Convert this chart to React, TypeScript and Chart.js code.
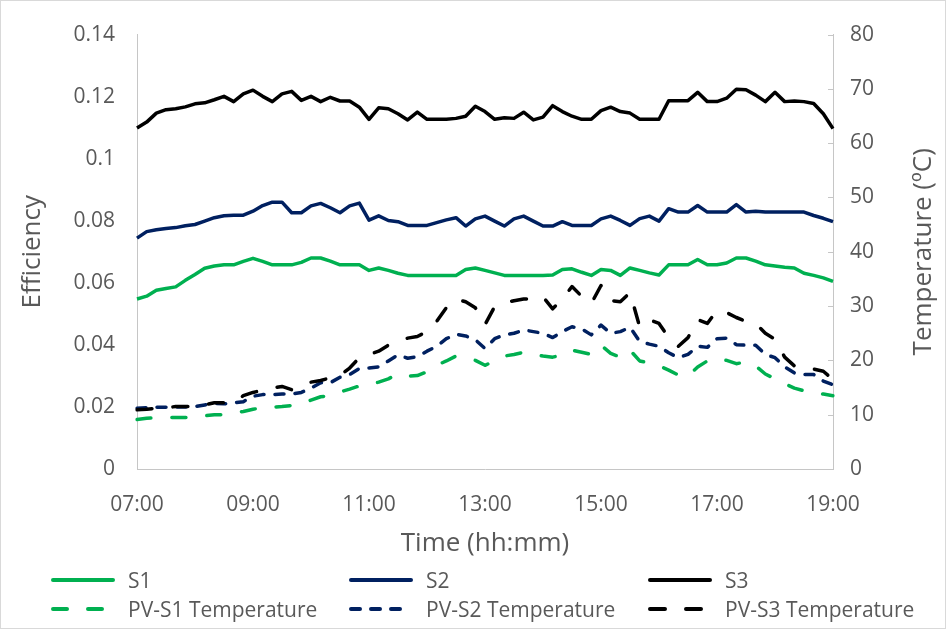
import React, { useEffect, useRef } from "react";
import { Chart, registerables } from "chart.js";

Chart.register(...registerables);

const times: string[] = [
  "07:00", "07:10", "07:20", "07:30", "07:40", "07:50",
  "08:00", "08:10", "08:20", "08:30", "08:40", "08:50",
  "09:00", "09:10", "09:20", "09:30", "09:40", "09:50",
  "10:00", "10:10", "10:20", "10:30", "10:40", "10:50",
  "11:00", "11:10", "11:20", "11:30", "11:40", "11:50",
  "12:00", "12:10", "12:20", "12:30", "12:40", "12:50",
  "13:00", "13:10", "13:20", "13:30", "13:40", "13:50",
  "14:00", "14:10", "14:20", "14:30", "14:40", "14:50",
  "15:00", "15:10", "15:20", "15:30", "15:40", "15:50",
  "16:00", "16:10", "16:20", "16:30", "16:40", "16:50",
  "17:00", "17:10", "17:20", "17:30", "17:40", "17:50",
  "18:00", "18:10", "18:20", "18:30", "18:40", "18:50",
  "19:00",
];

const shownTimeTicks: string[] = ["07:00", "09:00", "11:00", "13:00", "15:00", "17:00", "19:00"];

const s1: number[] = [
  0.0548, 0.0557, 0.0576, 0.0582, 0.0587, 0.0608, 0.0627, 0.0647, 0.0654, 0.0658,
  0.0658, 0.0669, 0.0679, 0.0669, 0.0658, 0.0658, 0.0658, 0.0666, 0.068, 0.068,
  0.067, 0.0658, 0.0658, 0.0658, 0.064, 0.0648, 0.064, 0.0631, 0.0624, 0.0624,
  0.0624, 0.0624, 0.0624, 0.0624, 0.0643, 0.0648, 0.064, 0.0632, 0.0624, 0.0624,
  0.0624, 0.0624, 0.0624, 0.0625, 0.0643, 0.0645, 0.0634, 0.0624, 0.0643, 0.064,
  0.0624, 0.0648, 0.064, 0.0632, 0.0625, 0.0658, 0.0658, 0.0658, 0.0675, 0.0658,
  0.0658, 0.0664, 0.068, 0.068, 0.067, 0.0658, 0.0654, 0.065, 0.0648, 0.0631,
  0.0624, 0.0616, 0.0605,
];

const s2: number[] = [
  0.0744, 0.0765, 0.0771, 0.0775, 0.0778, 0.0784, 0.0788, 0.0799, 0.081, 0.0816,
  0.0818, 0.0818, 0.0831, 0.0849, 0.086, 0.086, 0.0826, 0.0826, 0.0848, 0.0856,
  0.0842, 0.0826, 0.0848, 0.0857, 0.0802, 0.0816, 0.0801, 0.0797, 0.0785, 0.0785,
  0.0785, 0.0794, 0.0803, 0.081, 0.0783, 0.0806, 0.0815, 0.0799, 0.0783, 0.0806,
  0.0815, 0.0799, 0.0783, 0.0783, 0.0797, 0.0785, 0.0785, 0.0785, 0.0806, 0.0815,
  0.0801, 0.0785, 0.0807, 0.0815, 0.0799, 0.0839, 0.0828, 0.0828, 0.0849, 0.0828,
  0.0828, 0.0828, 0.0852, 0.0828, 0.0831, 0.0828, 0.0828, 0.0828, 0.0828, 0.0828,
  0.0817, 0.0808, 0.0797,
];

const s3: number[] = [
  0.1099, 0.1118, 0.1147, 0.1158, 0.1161, 0.1167, 0.1177, 0.118, 0.119, 0.1201,
  0.1184, 0.1209, 0.1221, 0.1201, 0.1184, 0.1209, 0.1217, 0.1188, 0.1201, 0.1184,
  0.1198, 0.1186, 0.1186, 0.1166, 0.1127, 0.1164, 0.1161, 0.1145, 0.1125, 0.115,
  0.1127, 0.1127, 0.1127, 0.113, 0.1137, 0.1169, 0.1152, 0.1127, 0.1132, 0.113,
  0.115, 0.1125, 0.1134, 0.1171, 0.1152, 0.1137, 0.1127, 0.1127, 0.1155, 0.1166,
  0.1152, 0.1147, 0.1127, 0.1127, 0.1127, 0.1187, 0.1187, 0.1187, 0.1214, 0.1184,
  0.1184, 0.1195, 0.1224, 0.1222, 0.1205, 0.1184, 0.1214, 0.1184, 0.1186, 0.1184,
  0.1178, 0.1145, 0.1097,
];

const pvS1Temp: number[] = [
  9.1, 9.35, 9.45, 9.5, 9.5, 9.5, 9.6, 9.8, 10.0, 10.0,
  10.3, 10.6, 11.0, 11.3, 11.4, 11.5, 11.7, 12.0, 12.7, 13.3,
  13.5, 14.2, 14.7, 15.3, 15.5, 16.0, 16.6, 17.5, 17.1, 17.2,
  17.9, 19.1, 19.9, 20.8, 20.4, 20.0, 19.1, 19.9, 20.8, 21.1,
  21.5, 21.1, 20.8, 20.6, 21.0, 21.9, 21.5, 21.1, 22.8, 21.3,
  20.6, 21.9, 19.9, 19.5, 19.0, 18.2, 17.3, 17.1, 18.8, 19.9,
  20.4, 20.0, 19.4, 19.7, 19.0, 17.5, 16.6, 15.7, 14.9, 14.4,
  14.0, 13.8, 13.5,
];

const pvS2Temp: number[] = [
  11.2, 11.3, 11.35, 11.35, 11.4, 11.4, 11.5, 11.8, 12.1, 12.0,
  12.2, 12.4, 13.4, 13.7, 13.7, 13.8, 13.8, 14.1, 14.9, 15.9,
  15.9, 16.9, 17.4, 18.5, 18.6, 18.8, 19.9, 21.0, 20.4, 20.7,
  21.7, 22.6, 24.0, 24.8, 24.5, 23.8, 22.2, 24.0, 24.7, 25.0,
  25.6, 25.3, 25.0, 24.2, 25.3, 26.2, 25.8, 24.7, 26.5, 25.0,
  25.3, 26.1, 23.5, 23.0, 22.6, 21.4, 20.5, 21.1, 22.6, 22.4,
  24.0, 24.1, 22.9, 22.8, 22.8, 21.1, 20.5, 18.8, 17.7, 17.4,
  17.4, 16.2, 15.5,
];

const pvS3Temp: number[] = [
  10.9, 11.0, 11.2, 11.3, 11.5, 11.5, 11.5, 11.8, 12.2, 12.2,
  12.2, 13.5, 14.1, 14.5, 14.9, 15.2, 14.6, 15.3, 16.0, 16.3,
  16.8, 17.2, 18.6, 20.5, 21.1, 21.7, 22.8, 23.5, 24.1, 24.4,
  25.3, 27.2, 29.7, 31.3, 30.8, 29.7, 26.6, 29.9, 30.6, 31.0,
  31.3, 31.3, 31.7, 29.5, 31.3, 33.6, 31.8, 30.5, 33.8, 31.0,
  30.8, 32.5, 26.2, 27.5, 26.8, 24.2, 22.6, 24.2, 27.5, 26.8,
  29.2, 28.8, 27.9, 27.2, 26.8, 25.0, 23.9, 20.6, 19.0, 18.4,
  18.4, 18.0, 16.5,
];

const GREEN = "#00B050";
const NAVY = "#002060";
const BLACK = "#000000";
const TEXT = "#595959";
const AXIS = "#c6c6c6";
const FONT = "'Open Sans', 'Noto Sans', sans-serif";

type SeriesDef = {
  label: string;
  data: number[];
  color: string;
  dash: number[];
  axis: string;
};

const series: SeriesDef[] = [
  { label: "S1", data: s1, color: GREEN, dash: [], axis: "y" },
  { label: "S2", data: s2, color: NAVY, dash: [], axis: "y" },
  { label: "S3", data: s3, color: BLACK, dash: [], axis: "y" },
  { label: "PV-S1 Temperature", data: pvS1Temp, color: GREEN, dash: [14, 21], axis: "y1" },
  { label: "PV-S2 Temperature", data: pvS2Temp, color: NAVY, dash: [9, 11], axis: "y1" },
  { label: "PV-S3 Temperature", data: pvS3Temp, color: BLACK, dash: [15, 21], axis: "y1" },
];

const extrasPlugin = {
  id: "extras",
  afterDraw(chart: any) {
    const { ctx, chartArea, scales } = chart;
    const y1 = scales.y1;
    ctx.save();
    ctx.strokeStyle = AXIS;
    ctx.lineWidth = 1;
    y1.ticks.forEach((_t: any, i: number) => {
      const y = Math.round(y1.getPixelForTick(i)) + 0.5;
      ctx.beginPath();
      ctx.moveTo(chartArea.right - 5, y);
      ctx.lineTo(chartArea.right, y);
      ctx.stroke();
    });
    ctx.translate(924, (chartArea.top + chartArea.bottom) / 2);
    ctx.rotate(-Math.PI / 2);
    ctx.font = `26px ${FONT}`;
    ctx.fillStyle = TEXT;
    ctx.textAlign = "center";
    ctx.textBaseline = "middle";
    ctx.fillText("Temperature (ºC)", 0, 0);
    ctx.restore();
  },
};

const legendCols = [51, 349, 648];
const legendRows = [580, 609];

export default function App() {
  const canvasRef = useRef<HTMLCanvasElement | null>(null);

  useEffect(() => {
    if (!canvasRef.current) return;
    const chart = new Chart(canvasRef.current, {
      type: "line",
      data: {
        labels: times,
        datasets: series.map((s, i) => ({
          label: s.label,
          data: s.data,
          borderColor: s.color,
          backgroundColor: s.color,
          borderWidth: 3.5,
          borderDash: s.dash,
          borderCapStyle: s.dash.length ? "round" : "butt",
          borderJoinStyle: "round",
          pointRadius: 0,
          tension: 0,
          fill: false,
          yAxisID: s.axis,
          order: series.length - i,
        })),
      },
      options: {
        responsive: true,
        maintainAspectRatio: false,
        animation: false,
        layout: { padding: { left: 17, right: 0, top: 30, bottom: 70 } },
        plugins: {
          legend: { display: false },
          tooltip: { enabled: false },
        },
        scales: {
          x: {
            type: "category",
            offset: false,
            grid: { display: false, drawTicks: false },
            border: { display: true, color: AXIS, width: 1 },
            ticks: {
              autoSkip: false,
              maxRotation: 0,
              minRotation: 0,
              padding: 23,
              color: TEXT,
              font: { family: FONT, size: 21 },
              callback: function (this: any, _v: any, idx: number) {
                const lab = times[idx];
                return shownTimeTicks.includes(lab) ? lab : "";
              },
            },
            title: {
              display: true,
              text: "Time (hh:mm)",
              color: TEXT,
              font: { family: FONT, size: 26 },
              padding: { top: 0, bottom: 0 },
            },
            afterFit(scale: any) {
              scale.height = 90;
            },
          },
          y: {
            type: "linear",
            position: "left",
            min: 0,
            max: 0.14,
            grid: { display: false, drawTicks: false },
            border: { display: true, color: AXIS, width: 1 },
            ticks: {
              stepSize: 0.02,
              padding: 22,
              color: TEXT,
              font: { family: FONT, size: 21 },
              callback: (v: any) => String(Number(Number(v).toFixed(2))),
            },
            title: {
              display: true,
              text: "Efficiency",
              color: TEXT,
              font: { family: FONT, size: 26 },
              padding: { top: 0, bottom: 0 },
            },
            afterFit(scale: any) {
              scale.width = 120;
            },
          },
          y1: {
            type: "linear",
            position: "right",
            min: 0,
            max: 80,
            grid: { display: false, drawTicks: false },
            border: { display: true, color: AXIS, width: 1 },
            ticks: {
              stepSize: 10,
              padding: 17,
              color: TEXT,
              font: { family: FONT, size: 21 },
            },
            afterFit(scale: any) {
              scale.width = 113;
            },
          },
        },
      },
      plugins: [extrasPlugin],
    } as any);
    return () => chart.destroy();
  }, []);

  return (
    <div
      style={{
        position: "absolute",
        left: 0,
        top: 0,
        width: 946,
        height: 629,
        background: "#ffffff",
        fontFamily: FONT,
      }}
    >
      <canvas ref={canvasRef} />
      {series.map((s, i) => {
        const col = i % 3;
        const row = Math.floor(i / 3);
        return (
          <div
            key={s.label}
            style={{
              position: "absolute",
              left: legendCols[col],
              top: legendRows[row] - 14,
              height: 28,
              display: "flex",
              alignItems: "center",
              whiteSpace: "nowrap",
            }}
          >
            <svg width={64} height={8} style={{ display: "block" }}>
              <line
                x1={2}
                y1={4}
                x2={62}
                y2={4}
                stroke={s.color}
                strokeWidth={4}
                strokeLinecap="round"
                strokeDasharray={s.dash.length ? s.dash.join(" ") : undefined}
              />
            </svg>
            <span style={{ marginLeft: 13, fontSize: 21, color: TEXT, lineHeight: "28px" }}>
              {s.label}
            </span>
          </div>
        );
      })}
      <div
        style={{
          position: "absolute",
          left: 0,
          top: 0,
          width: 946,
          height: 629,
          boxSizing: "border-box",
          border: "1px solid #d9d9d9",
          pointerEvents: "none",
        }}
      />
    </div>
  );
}
